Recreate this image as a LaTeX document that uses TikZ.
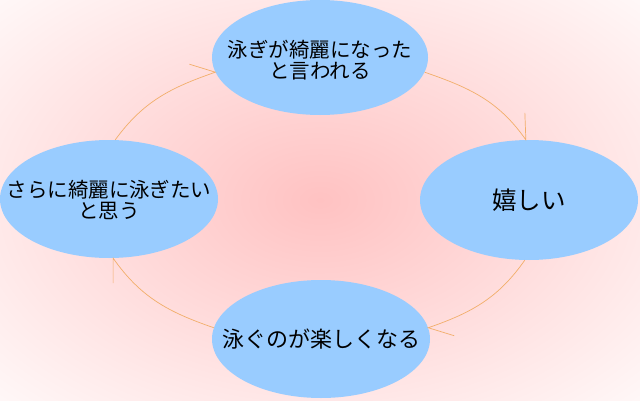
\documentclass[tikz,border=0pt]{standalone}
\usepackage{fontspec}
\newfontfamily\jpfont{Noto Sans CJK JP}
\usetikzlibrary{shapes.geometric}
\definecolor{BubbleBlue}{HTML}{99CCFF}
\definecolor{LinkOrange}{HTML}{F2AE6A}
\definecolor{GlowPink}{HTML}{FFC2C2}

\begin{document}
\begin{tikzpicture}[
  x=1pt, y=1pt,
  bubble/.style={ellipse, fill=BubbleBlue, inner sep=0pt, minimum width=218pt, minimum height=118pt},
  words/.style={align=center, inner sep=0pt, font=\jpfont\fontsize{20.5}{21}\selectfont},
  link/.style={draw=LinkOrange, line width=0.7pt}
]
  \useasboundingbox (0,0) rectangle (640,400);
  \begin{scope}
    \clip (0,0) rectangle (640,400);
    \shade[inner color=GlowPink, outer color=white] (320,200) ellipse [x radius=510, y radius=330];
  \end{scope}

  \node[bubble, minimum width=216pt, minimum height=115pt] (praised) at (320,342.5) {};
  \node[bubble, minimum height=120pt] (happy) at (529,200) {};
  \node[bubble] (fun) at (321,61) {};
  \node[bubble] (wish) at (109,201) {};

  \node[words] (praisedtext) at ([yshift=-3pt]praised.center) {泳ぎが綺麗になった\\と言われる};
  \node[words, font=\jpfont\fontsize{24.5}{26}\selectfont] (happytext) at (happy.center) {嬉しい};
  \node[words, font=\jpfont\fontsize{22}{24}\selectfont] (funtext) at (fun.center) {泳ぐのが楽しくなる};
  \node[words] (wishtext) at ([yshift=-1pt]wish.center) {さらに綺麗に泳ぎたい\\と思う};

  % cycle with half arrow heads
  \draw[link] (praised.-8) to[out=-19, in=125] (happy.93) -- ++(-1,27);
  \draw[link] (happy.-94) to[out=-125, in=19] (fun.6) -- ++(26,-8);
  \draw[link] (fun.174) to[out=161, in=-55] (wish.-86) -- ++(0,-25);
  \draw[link] (wish.84) to[out=54, in=199] (praised.188) -- ++(-26,8);
\end{tikzpicture}
\end{document}
